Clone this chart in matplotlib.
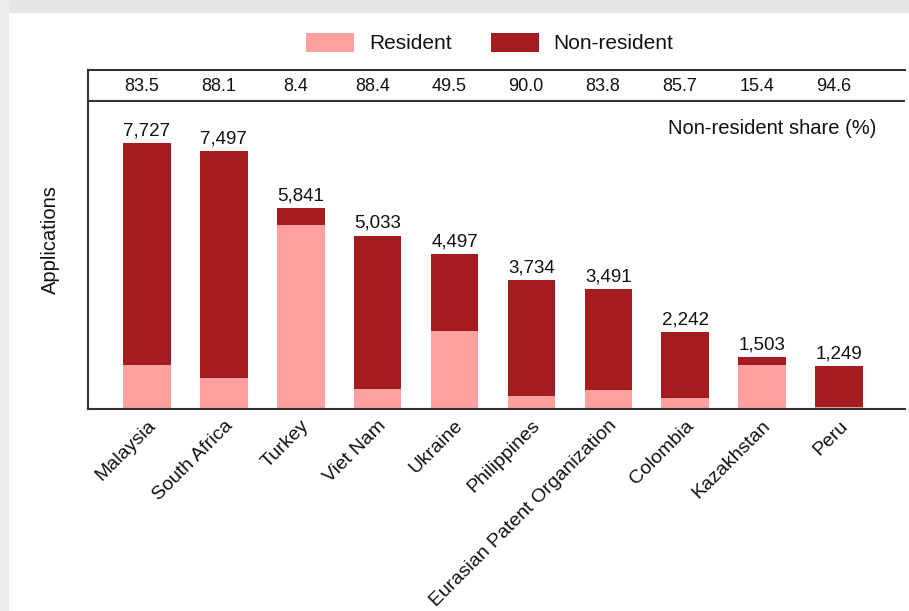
import matplotlib
matplotlib.use("Agg")
import matplotlib.pyplot as plt
from matplotlib.patches import Rectangle

plt.rcParams['font.family'] = ['Liberation Sans', 'DejaVu Sans']

categories = ["Malaysia", "South Africa", "Turkey", "Viet Nam", "Ukraine",
              "Philippines", "Eurasian Patent Organization", "Colombia",
              "Kazakhstan", "Peru"]
totals = [7727, 7497, 5841, 5033, 4497, 3734, 3491, 2242, 1503, 1249]
resident = [1275, 892, 5350, 584, 2271, 373, 566, 321, 1272, 67]
non_resident = [6452, 6605, 491, 4449, 2226, 3361, 2925, 1921, 231, 1182]
share_labels = ["83.5", "88.1", "8.4", "88.4", "49.5", "90.0", "83.8", "85.7", "15.4", "94.6"]

c_res = "#FFA0A0"
c_non = "#A51C1E"
txt = "#111111"

fig = plt.figure(figsize=(9.09, 6.11), dpi=100)
fig.patch.set_facecolor("white")
# light grey frame from the source page
fig.add_artist(Rectangle((0, 1 - 12 / 611), 1, 12 / 611, transform=fig.transFigure,
                         color="#e6e6e6", zorder=0))
fig.add_artist(Rectangle((0, 0), 8 / 909, 1, transform=fig.transFigure,
                         color="#ececec", zorder=0))

ax = fig.add_axes([88 / 909, 1 - 409 / 611, (905 - 88) / 909, (409 - 70) / 611])
x = list(range(len(categories)))
w = 0.62
ax.bar(x, resident, width=w, color=c_res, label="Resident", zorder=2)
ax.bar(x, non_resident, width=w, bottom=resident, color=c_non, label="Non-resident", zorder=2)

strip_line = 8950
ymax = 9846
ax.set_ylim(0, ymax)
ax.set_xlim(-0.767, 9.858)
ax.axhline(strip_line, color="#333333", lw=1.5, zorder=3)

for xi, t in zip(x, totals):
    ax.text(xi, t + 110, f"{t:,}", ha="center", va="bottom", fontsize=13.5, color=txt)
for xi, s in zip(x, share_labels):
    ax.text(xi - 0.07, (strip_line + ymax) / 2 - 30, s, ha="center", va="center",
            fontsize=13, color=txt)
ax.text(9.48, 8160, "Non-resident share (%)", ha="right", va="center", fontsize=14.5,
        color=txt)

ax.set_xticks(x)
ax.set_xticklabels(categories, rotation=45, ha="right", rotation_mode="anchor",
                   fontsize=14, color=txt)
ax.tick_params(axis="x", length=0, pad=6)
ax.set_yticks([])
ax.set_ylabel("Applications", fontsize=14.5, color=txt, labelpad=20)

for side in ["left", "bottom", "top"]:
    ax.spines[side].set_color("#333333")
    ax.spines[side].set_linewidth(1.5)
ax.spines["right"].set_visible(False)

leg = fig.legend(loc="center", bbox_to_anchor=(0.539, 1 - 43 / 611), ncol=2, frameon=False,
                 fontsize=15, handlelength=2.3, handleheight=1.05, columnspacing=1.9,
                 handletextpad=0.7)
for t in leg.get_texts():
    t.set_color(txt)

fig.savefig("out.png", dpi=100, facecolor=fig.get_facecolor())
